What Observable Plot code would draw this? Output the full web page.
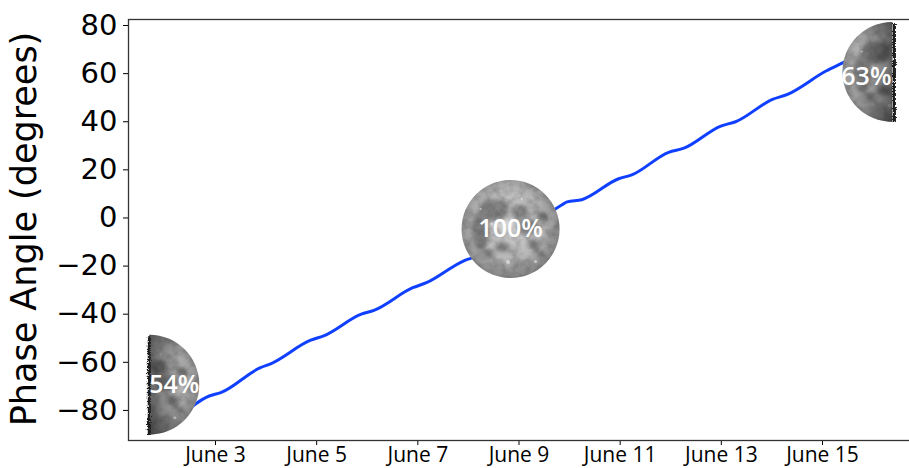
<!DOCTYPE html>
<html>
<head>
<meta charset="utf-8">
<script src="https://cdn.jsdelivr.net/npm/d3@7"></script>
<script src="https://cdn.jsdelivr.net/npm/@observablehq/plot@0.6"></script>
<style>
  body { margin: 0; background: #fff; }
  #chart svg { display: block; }
</style>
</head>
<body>
<div id="chart"></div>
<script>
// phase angle of the Moon, June (UTC)
const times = [
  "2022-06-02T00:00Z", "2022-06-02T03:00Z", "2022-06-02T21:00Z", "2022-06-03T02:30Z",
  "2022-06-03T21:20Z", "2022-06-04T02:10Z", "2022-06-04T21:10Z", "2022-06-05T03:20Z",
  "2022-06-05T21:10Z", "2022-06-06T03:10Z", "2022-06-06T21:35Z", "2022-06-07T04:05Z",
  "2022-06-07T22:05Z", "2022-06-08T03:35Z", "2022-06-08T21:35Z", "2022-06-09T03:35Z",
  "2022-06-09T20:25Z", "2022-06-09T22:50Z", "2022-06-10T05:45Z", "2022-06-10T23:15Z",
  "2022-06-11T05:30Z", "2022-06-11T23:00Z", "2022-06-12T06:15Z", "2022-06-12T23:45Z",
  "2022-06-13T06:45Z", "2022-06-14T00:15Z", "2022-06-14T07:25Z", "2022-06-15T01:40Z",
  "2022-06-15T09:35Z", "2022-06-16T00:00Z"
]
const phaseAngle = [
  -84.6, -83.8, -74.0, -72.6,
  -62.2, -60.6, -50.8, -49.0,
  -40.0, -38.4, -29.0, -26.9,
  -17.7, -16.0, -6.0, -4.0,
  5.5, 6.7, 7.6, 16.3,
  17.9, 27.3, 29.0, 38.2,
  40.0, 49.3, 51.4, 61.1,
  64.5, 71.0
]

// moon pictures
const moonTimes = ["2022-06-01T16:35Z", "2022-06-08T20:00Z", "2022-06-16T09:10Z"]
const moonAngles = [-69.3, -4.6, 60.7]
const moonLabels = ["54%", "100%", "63%"]
const moonLit = ["right", "full", "left"]

// axis
const tickDays = [3, 5, 7, 9, 11, 13, 15]
const yTicks = [-80, -60, -40, -20, 0, 20, 40, 60, 80]
const xDomain = ["2022-06-01T06:43Z", "2022-06-16T18:14Z"]
const yDomain = [-92.5, 82.5]
const yTitle = "Phase Angle (degrees)"

const data = times.map((t, i) => ({date: new Date(t), angle: phaseAngle[i]}))
const moons = moonTimes.map((t, i) => ({date: new Date(t), angle: moonAngles[i], label: moonLabels[i], lit: moonLit[i]}))

// a grey textured moon drawn as a small svg, clipped to a half for the quarter-ish ones
function moonSrc(lit) {
  let clip = ''
  let edge = ''
  let shade = ''
  if (lit === 'right') {
    clip = '<clipPath id="c"><rect x="100" y="0" width="100" height="200"/></clipPath>'
    shade = '<linearGradient id="s" x1="100" x2="165" y1="0" y2="0" gradientUnits="userSpaceOnUse"><stop offset="0" stop-color="#000" stop-opacity="0.5"/><stop offset="1" stop-color="#000" stop-opacity="0"/></linearGradient>'
    edge = '<rect x="95" y="3" width="6" height="194" fill="#1e1e1e" filter="url(#j)"/>'
  } else if (lit === 'left') {
    clip = '<clipPath id="c"><rect x="0" y="0" width="100" height="200"/></clipPath>'
    shade = '<linearGradient id="s" x1="100" x2="35" y1="0" y2="0" gradientUnits="userSpaceOnUse"><stop offset="0" stop-color="#000" stop-opacity="0.5"/><stop offset="1" stop-color="#000" stop-opacity="0"/></linearGradient>'
    edge = '<rect x="99" y="3" width="6" height="194" fill="#1e1e1e" filter="url(#j)"/>'
  }
  const svg = `<svg xmlns="http://www.w3.org/2000/svg" viewBox="0 0 200 200" width="200" height="200">
<defs>
<radialGradient id="g" cx="48%" cy="45%" r="58%">
<stop offset="0" stop-color="#d8d8d8"/><stop offset="0.6" stop-color="#b8b8b8"/><stop offset="1" stop-color="#7a7a7a"/>
</radialGradient>
<filter id="b" x="-20%" y="-20%" width="140%" height="140%"><feGaussianBlur stdDeviation="4"/></filter>
<filter id="n" x="0" y="0" width="100%" height="100%">
<feTurbulence type="fractalNoise" baseFrequency="0.05" numOctaves="4" seed="7" result="t"/>
<feColorMatrix in="t" type="matrix" values="0 0 0 0 0  0 0 0 0 0  0 0 0 0 0  1.6 0 0 0 -0.6" result="a"/>
<feComposite in="a" in2="SourceGraphic" operator="in"/>
</filter>
<filter id="j" x="-200%" y="0" width="500%" height="100%">
<feTurbulence type="turbulence" baseFrequency="0.5" numOctaves="2" seed="3" result="t"/>
<feDisplacementMap in="SourceGraphic" in2="t" scale="7" xChannelSelector="R" yChannelSelector="G"/>
</filter>
${clip}${shade}
</defs>
<g ${clip ? 'clip-path="url(#c)"' : ''}>
<circle cx="100" cy="100" r="98" fill="url(#g)"/>
<g filter="url(#b)" fill="#505050" opacity="0.55">
<ellipse cx="68" cy="62" rx="30" ry="22"/>
<ellipse cx="40" cy="102" rx="18" ry="40"/>
<ellipse cx="120" cy="66" rx="17" ry="15"/>
<ellipse cx="134" cy="96" rx="22" ry="16"/>
<ellipse cx="164" cy="76" rx="10" ry="12"/>
<ellipse cx="146" cy="130" rx="12" ry="10"/>
<ellipse cx="84" cy="136" rx="16" ry="10"/>
<ellipse cx="58" cy="150" rx="10" ry="8"/>
<ellipse cx="160" cy="150" rx="8" ry="6"/>
</g>
<circle cx="100" cy="100" r="98" fill="#000" filter="url(#n)" opacity="0.28"/>
<g fill="#f2f2f2" opacity="0.55">
<circle cx="95" cy="166" r="4"/><circle cx="62" cy="90" r="2.5"/><circle cx="150" cy="165" r="3"/>
<circle cx="122" cy="40" r="2"/><circle cx="40" cy="60" r="2"/>
</g>
${shade ? '<circle cx="100" cy="100" r="98" fill="url(#s)"/>' : ''}
</g>
${edge}
</svg>`
  return 'data:image/svg+xml,' + encodeURIComponent(svg)
}

const chart = Plot.plot({
  width: 909,
  height: 468,
  marginLeft: 128,
  marginRight: -2,
  marginTop: 19,
  marginBottom: 28,
  style: {fontFamily: 'DejaVu Sans', fontSize: '29px', color: '#000', background: '#fff'},
  x: {
    type: 'utc',
    domain: xDomain.map(d => new Date(d)),
    ticks: tickDays.map(d => new Date(Date.UTC(2022, 5, d))),
    tickFormat: d => `June ${d.getUTCDate()}`,
    tickSize: 5,
    tickPadding: 2,
    label: null
  },
  y: {
    domain: yDomain,
    ticks: yTicks,
    tickFormat: d3.format('d'),
    tickSize: 5,
    tickPadding: 6,
    label: null
  },
  marks: [
    Plot.line(data, {x: 'date', y: 'angle', stroke: '#1040ff', strokeWidth: 3, curve: 'monotone-x'}),
    Plot.image(moons.filter(d => d.lit === 'full'), {x: 'date', y: 'angle', src: d => moonSrc(d.lit), width: 100, height: 100}),
    Plot.image(moons.filter(d => d.lit !== 'full'), {x: 'date', y: 'angle', src: d => moonSrc(d.lit), width: 102, height: 102}),
    Plot.text(moons, {
      x: 'date', y: 'angle', text: 'label',
      fill: 'white', fontFamily: 'Open Sans', fontWeight: 600, fontSize: 25
    }),
    Plot.frame({stroke: '#333', strokeWidth: 1.3})
  ]
})

const svg = d3.select(chart)

// shift the half-moon labels onto the lit half
svg.selectAll('text').filter(function () { return this.textContent === '54%' }).attr('dx', 25)
svg.selectAll('text').filter(function () { return this.textContent === '63%' }).attr('dx', -26).attr('dy', '0.2em')

// x tick labels use a different face than the y ticks
svg.selectAll('[aria-label^="x-axis"] text')
  .style('font-family', '"Open Sans"').style('font-size', '21px')
svg.selectAll('[aria-label^="x-axis"] line, [aria-label^="y-axis"] line')
  .attr('stroke', '#333')

// rotated y title at the left edge
svg.append('text')
  .attr('transform', 'translate(25,229) rotate(-90)')
  .attr('text-anchor', 'middle')
  .attr('dy', '0.32em')
  .attr('fill', '#000')
  .style('font-family', '"DejaVu Sans"')
  .style('font-size', '35px')
  .text(yTitle)

d3.select('#chart').append(() => chart)
</script>
</body>
</html>
